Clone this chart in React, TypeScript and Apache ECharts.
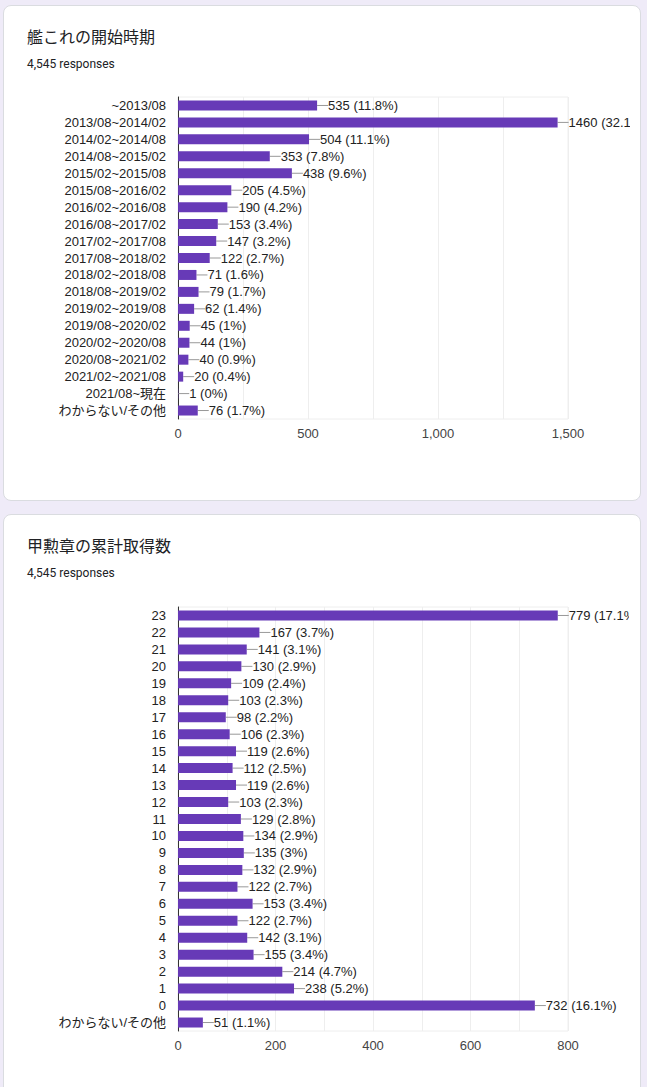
import React, { useEffect, useRef } from "react";
import * as echarts from "echarts";

const TOTAL = 4545;

const startCategories = [
  "~2013/08", "2013/08~2014/02", "2014/02~2014/08", "2014/08~2015/02", "2015/02~2015/08",
  "2015/08~2016/02", "2016/02~2016/08", "2016/08~2017/02", "2017/02~2017/08", "2017/08~2018/02",
  "2018/02~2018/08", "2018/08~2019/02", "2019/02~2019/08", "2019/08~2020/02", "2020/02~2020/08",
  "2020/08~2021/02", "2021/02~2021/08", "2021/08~現在", "わからない/その他",
];
const startValues = [535, 1460, 504, 353, 438, 205, 190, 153, 147, 122, 71, 79, 62, 45, 44, 40, 20, 1, 76];

const medalCategories = [
  "23", "22", "21", "20", "19", "18", "17", "16", "15", "14", "13", "12", "11", "10",
  "9", "8", "7", "6", "5", "4", "3", "2", "1", "0", "わからない/その他",
];
const medalValues = [779, 167, 141, 130, 109, 103, 98, 106, 119, 112, 119, 103, 129, 134, 135, 132, 122, 153, 122, 142, 155, 214, 238, 732, 51];

const startTicks = { max: 1500, interval: 250, labelEvery: 500 };
const medalTicks = { max: 800, interval: 100, labelEvery: 200 };

const FONT = '"Liberation Sans", Arial, "Noto Sans CJK JP", sans-serif';
const TITLE_FONT = 'Roboto, "Noto Sans CJK JP", sans-serif';

function pct(v: number) {
  return String(Math.round((v / TOTAL) * 1000) / 10);
}

function makeOption(title: string, cats: string[], vals: number[], ticks: any, gridTop: number, gridHeight: number) {
  return {
    animation: false,
    title: [
      {
        text: title, left: 24, top: 22, padding: 0,
        textStyle: { fontFamily: TITLE_FONT, fontSize: 16, fontWeight: "normal", color: "#202124", lineHeight: 20 },
      },
      {
        text: TOTAL.toLocaleString("en-US") + " responses", left: 24, top: 51, padding: 0,
        textStyle: { fontFamily: TITLE_FONT, fontSize: 12, fontWeight: "normal", color: "#202124", lineHeight: 16 },
      },
    ],
    grid: { left: 175, top: gridTop, width: 390, height: gridHeight, show: true, borderColor: "#eeeeee", borderWidth: 1, containLabel: false },
    xAxis: {
      type: "value", min: 0, max: ticks.max, interval: ticks.interval,
      axisLine: { show: false }, axisTick: { show: false },
      splitLine: { show: true, lineStyle: { color: "#eeeeee", width: 1 } },
      axisLabel: {
        margin: 8, fontFamily: FONT, fontSize: 13, color: "#444444",
        formatter: (v: number) => (v % ticks.labelEvery === 0 ? v.toLocaleString("en-US") : ""),
      },
    },
    yAxis: {
      type: "category", inverse: true, data: cats,
      axisTick: { show: false },
      axisLine: { show: true, lineStyle: { color: "#333333", width: 1 } },
      axisLabel: { margin: 12, fontFamily: FONT, fontSize: 13, color: "#222222", interval: 0 },
    },
    series: [
      {
        type: "bar", data: vals, barWidth: 10,
        itemStyle: { color: "#673ab7" },
        label: {
          show: true, position: "right", distance: 0,
          fontFamily: FONT, fontSize: 13, color: "#222222",
          formatter: (p: any) => `${p.value} (${pct(p.value)}%)`,
        },
        labelLayout: { dx: 11 },
        labelLine: { show: true, length2: 0, lineStyle: { color: "#999999", width: 1 } },
      },
    ],
  };
}

function Chart({ option, style }: { option: any; style: React.CSSProperties }) {
  const ref = useRef<HTMLDivElement>(null);
  useEffect(() => {
    if (!ref.current) return;
    const chart = echarts.init(ref.current, undefined, { renderer: "svg" });
    chart.setOption(option);
    return () => chart.dispose();
  }, [option]);
  return <div ref={ref} style={style} />;
}

const option1 = makeOption("艦これの開始時期", startCategories, startValues, startTicks, 92, 322);
const option2 = makeOption("甲勲章の累計取得数", medalCategories, medalValues, medalTicks, 93, 424);

export default function App() {
  const card: React.CSSProperties = {
    position: "absolute", left: 3, width: 638, background: "#ffffff",
    border: "1px solid #dadce0", borderRadius: 8, boxSizing: "border-box",
  };
  return (
    <div style={{ position: "absolute", left: 0, top: 0, width: 647, height: 1087, background: "#efebf8", overflow: "hidden" }}>
      <div style={{ ...card, top: 5, height: 496 }} />
      <div style={{ ...card, top: 514, height: 620 }} />
      <Chart option={option1} style={{ position: "absolute", left: 3, top: 5, width: 627, height: 495 }} />
      <Chart option={option2} style={{ position: "absolute", left: 3, top: 514, width: 626, height: 573 }} />
    </div>
  );
}
